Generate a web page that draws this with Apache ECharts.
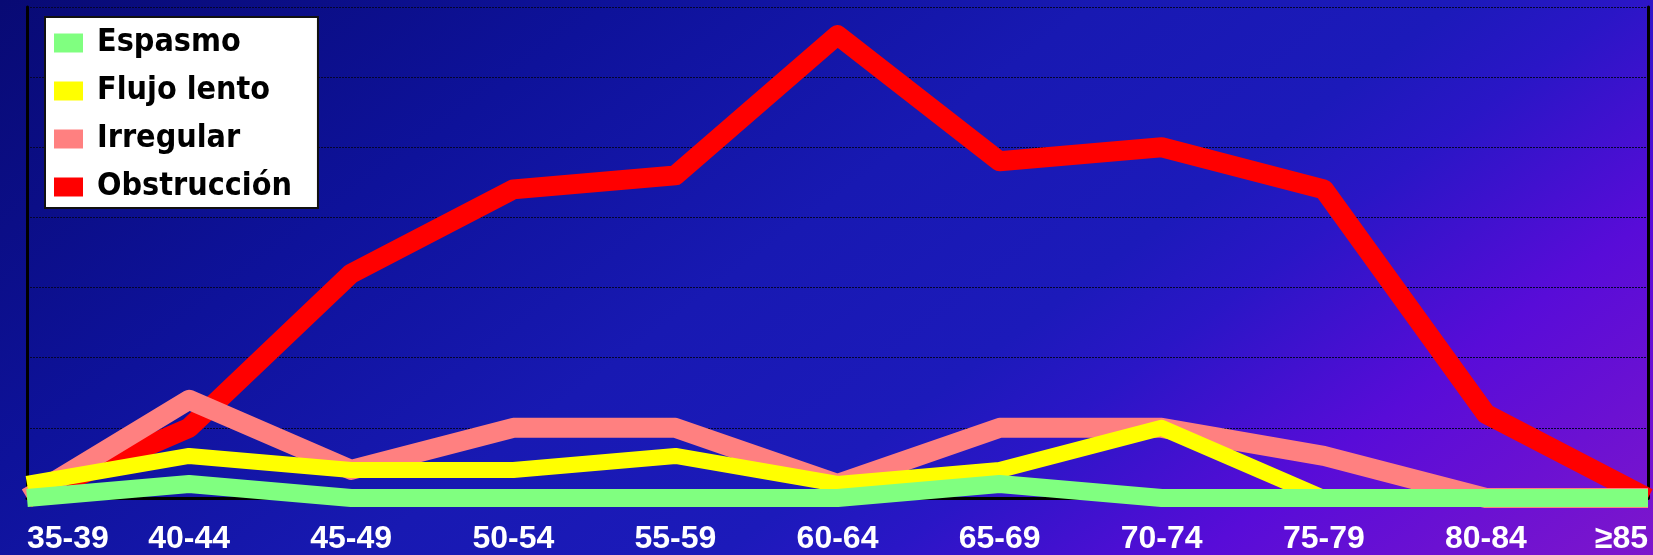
<!DOCTYPE html>
<html>
<head>
<meta charset="utf-8">
<script src="https://cdn.jsdelivr.net/npm/echarts@6/dist/echarts.min.js"></script>
<style>
  html, body { margin: 0; padding: 0; }
  #chart { width: 1653px; height: 555px; }
</style>
</head>
<body>
<div id="chart"></div>
<script>
// Age groups on the x axis
const ageGroups = ['35-39', '40-44', '45-49', '50-54', '55-59', '60-64', '65-69', '70-74', '75-79', '80-84', '\u226585'];

// Cases per age group for each finding
const espasmo     = [0, 1, 0, 0, 0, 0, 1, 0, 0, 0, 0];
const flujoLento  = [1, 3, 2, 2, 3, 1, 2, 5, 0, 0, 0];
const irregular   = [0, 7, 2, 5, 5, 1, 5, 5, 3, 0, 0];
const obstruccion = [0, 5, 16, 22, 23, 33, 24, 25, 22, 6, 0];

// Value axis range (no tick labels are drawn)
const yMin = 0;
const yMax = 35;
const yStep = 5;

const chart = echarts.init(document.getElementById('chart'));

function lineSeries(name, data, color, width) {
  return {
    name: name,
    type: 'line',
    data: data,
    symbol: 'none',
    clip: false,
    itemStyle: { color: color },
    lineStyle: { color: color, width: width, join: 'round', cap: 'butt' }
  };
}

chart.setOption({
  animation: false,
  // navy in the upper left fading through blue to violet in the lower right
  backgroundColor: new echarts.graphic.LinearGradient(0, 0, 861, 1149, [
    { offset: 0.00, color: '#080a74' },
    { offset: 0.26, color: '#0e129a' },
    { offset: 0.46, color: '#1819b2' },
    { offset: 0.61, color: '#1c1aba' },
    { offset: 0.68, color: '#2a16c6' },
    { offset: 0.81, color: '#580cd8' },
    { offset: 1.00, color: '#7e16cc' }
  ], true),
  grid: { left: 27, right: 5, top: 7, bottom: 57 },
  legend: {
    orient: 'vertical',
    left: 45,
    top: 17,
    data: ['Espasmo', 'Flujo lento', 'Irregular', 'Obstrucción'],
    icon: 'rect',
    itemWidth: 29,
    itemHeight: 19,
    itemGap: 16,
    backgroundColor: '#ffffff',
    borderColor: '#111111',
    borderWidth: 2,
    borderRadius: 0,
    padding: [10, 26, 5, 9],
    textStyle: {
      color: '#000000',
      fontFamily: 'DejaVu Sans Condensed, DejaVu Sans',
      fontWeight: 'bold',
      fontSize: 32,
      lineHeight: 28,
      padding: [0, 0, 0, 9]
    }
  },
  xAxis: {
    type: 'category',
    data: ageGroups,
    boundaryGap: false,
    offset: 12,
    axisLine: { show: true, lineStyle: { color: '#000000', width: 3 } },
    axisTick: { show: false },
    splitLine: { show: false },
    axisLabel: {
      color: '#ffffff',
      fontFamily: 'Liberation Sans, Arial, sans-serif',
      fontWeight: 'bold',
      fontSize: 32,
      margin: 13,
      alignMinLabel: 'left',
      alignMaxLabel: 'right'
    }
  },
  yAxis: [
    {
      type: 'value',
      min: yMin,
      max: yMax,
      interval: yStep,
      axisLine: { show: true, lineStyle: { color: '#000000', width: 3 } },
      axisTick: { show: false },
      axisLabel: { show: false },
      splitLine: { show: true, lineStyle: { color: '#05052e', width: 1, type: [2, 1] } }
    },
    {
      type: 'value',
      position: 'right',
      min: yMin,
      max: yMax,
      interval: yStep,
      axisLine: { show: true, lineStyle: { color: '#000000', width: 3 } },
      axisTick: { show: false },
      axisLabel: { show: false },
      splitLine: { show: false }
    }
  ],
  series: [
    lineSeries('Obstrucción', obstruccion, '#ff0000', 20),
    lineSeries('Irregular', irregular, '#ff8080', 20),
    lineSeries('Flujo lento', flujoLento, '#ffff00', 16),
    lineSeries('Espasmo', espasmo, '#80ff80', 18)
  ]
});
</script>
</body>
</html>
